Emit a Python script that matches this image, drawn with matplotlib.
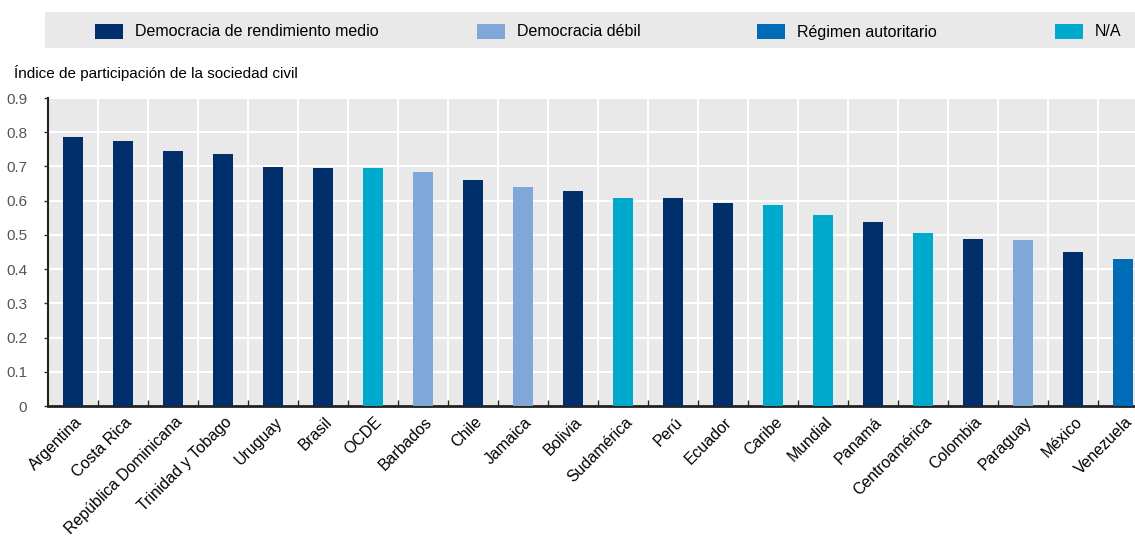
import matplotlib
matplotlib.use("Agg")
import matplotlib.pyplot as plt
import matplotlib.transforms as mtransforms
from matplotlib.patches import Rectangle

plt.rcParams['font.family'] = ['Liberation Sans', 'DejaVu Sans']

categories = ["Argentina", "Costa Rica", "República Dominicana", "Trinidad y Tobago",
              "Uruguay", "Brasil", "OCDE", "Barbados", "Chile", "Jamaica", "Bolivia",
              "Sudamérica", "Perú", "Ecuador", "Caribe", "Mundial", "Panamá",
              "Centroamérica", "Colombia", "Paraguay", "México", "Venezuela"]
values = [0.787, 0.774, 0.744, 0.736, 0.699, 0.696, 0.695, 0.684, 0.661, 0.640, 0.629,
          0.609, 0.608, 0.593, 0.586, 0.558, 0.539, 0.505, 0.487, 0.486, 0.451, 0.430]
groups = ["med", "med", "med", "med", "med", "med", "na", "weak", "med", "weak", "med",
          "na", "med", "med", "na", "na", "med", "na", "med", "weak", "med", "auth"]
group_labels = {"med": "Democracia de rendimiento medio", "weak": "Democracia débil",
                "auth": "Régimen autoritario", "na": "N/A"}
group_colors = {"med": "#002F6C", "weak": "#7FA8D9", "auth": "#006BB6", "na": "#00AACC"}
yticks = [0, 0.1, 0.2, 0.3, 0.4, 0.5, 0.6, 0.7, 0.8, 0.9]
ytick_labels = ["0", "0.1", "0.2", "0.3", "0.4", "0.5", "0.6", "0.7", "0.8", "0.9"]
ylabel = "Índice de participación de la sociedad civil"

W, H = 1135, 536
fig = plt.figure(figsize=(W / 100, H / 100), dpi=100)
ax = fig.add_axes([48 / W, 1 - 406 / H, 1 - 48 / W, (406 - 98) / H])
ax.set_facecolor("#E9E9E9")

x = list(range(len(categories)))
ax.bar(x, values, width=0.4, color=[group_colors[g] for g in groups], zorder=3)

ax.set_xlim(-0.5, (W - 48) / 50 - 0.5)
ax.set_ylim(0, 0.9)

# grid
for yv in yticks[1:]:
    ax.axhline(yv, color="white", lw=1.5, zorder=1)
for b in range(len(categories)):
    ax.axvline(b + 0.5, color="white", lw=1.5, zorder=1)

ax.set_yticks(yticks)
ax.set_yticklabels(ytick_labels, fontsize=11, color="#555555")
ax.tick_params(axis="y", direction="out", length=3, width=1, color="#333333", pad=12)

ax.set_xticks([i + 0.5 for i in x[:-1]], minor=True)
ax.set_xticks(x)
ax.set_xticklabels(categories, rotation=45, ha="right", rotation_mode="anchor", fontsize=11.4)
ax.tick_params(axis="x", which="major", length=0, pad=6)
ax.tick_params(axis="x", which="minor", direction="in", length=4, width=1, color="#222222")
offset = mtransforms.ScaledTranslation(1.5 / 100, 0, fig.dpi_scale_trans)
for lbl in ax.get_xticklabels():
    lbl.set_transform(lbl.get_transform() + offset)

for s in ["top", "right"]:
    ax.spines[s].set_visible(False)
ax.spines["left"].set_linewidth(1.5)
ax.spines["left"].set_color("#222222")
ax.spines["bottom"].set_linewidth(2)
ax.spines["bottom"].set_color("#222222")

# y label
fig.text(14 / W, 1 - 73 / H, ylabel, fontsize=11, ha="left", va="center")

# legend box
fig.add_artist(Rectangle((45 / W, 1 - 48 / H), (W - 45) / W, 36 / H,
                         transform=fig.transFigure, facecolor="#E9E9E9", edgecolor="none"))
leg_pos = {"med": 95, "weak": 477, "auth": 757, "na": 1055}
for g in ["med", "weak", "auth", "na"]:
    px = leg_pos[g]
    fig.add_artist(Rectangle((px / W, 1 - 39 / H), 28 / W, 15 / H, transform=fig.transFigure,
                             facecolor=group_colors[g], edgecolor="none"))
    fig.text((px + 40) / W, 1 - 32 / H, group_labels[g], fontsize=11.5, ha="left", va="center")

fig.savefig("out.png", dpi=100)
